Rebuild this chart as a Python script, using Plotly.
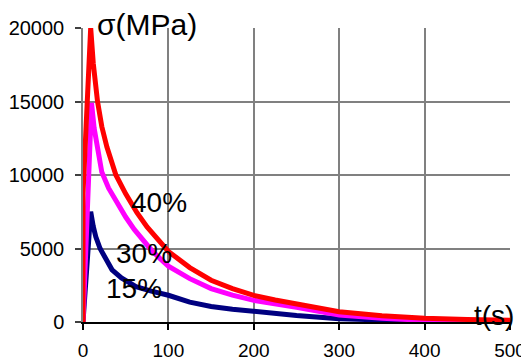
import plotly.graph_objects as go

t_40 = [0, 0, 9, 12, 17, 22, 28, 38.5, 50, 63, 75, 88, 100, 125, 150, 175, 200, 225, 250, 275, 300, 350, 400, 450, 500]
s_40 = [0, 8750, 20000, 17600, 15000, 13300, 11900, 10000, 8720, 7450, 6470, 5550, 4800, 3700, 2840, 2270, 1815, 1500, 1250, 950, 700, 420, 250, 170, 120]

t_30 = [0, 10, 13, 17, 22, 30, 40, 50, 60, 70, 80, 90, 100, 125, 150, 175, 200, 250, 300, 350, 400, 450, 500]
s_30 = [0, 14900, 13200, 11700, 10200, 9100, 8070, 7140, 6300, 5580, 4900, 4330, 3800, 2950, 2270, 1830, 1475, 1000, 480, 260, 110, 60, 40]

t_15 = [0, 9, 12, 15, 20, 27, 34, 45, 62, 80, 100, 125, 150, 175, 200, 250, 300, 350, 400, 450, 500]
s_15 = [0, 7500, 6500, 5800, 5000, 4200, 3550, 3000, 2400, 2100, 1820, 1350, 1050, 870, 720, 440, 220, 120, 60, 30, 20]

x_ticks = [0, 100, 200, 300, 400, 500]
y_ticks = [0, 5000, 10000, 15000, 20000]

labels = ["15%", "30%", "40%"]
label_pos = [(60, 2310), (71.5, 4630), (89, 8160)]
colors = ["#000080", "#FF00FF", "#FF0000"]

font = "Arial, Liberation Sans, sans-serif"

fig = go.Figure()
for tt, ss, c in [(t_15, s_15, colors[0]), (t_30, s_30, colors[1]), (t_40, s_40, colors[2])]:
    fig.add_trace(go.Scatter(x=tt, y=ss, mode="lines", line=dict(color=c, width=5),
                             showlegend=False, cliponaxis=True))

for lab, (lx, ly) in zip(labels, label_pos):
    fig.add_annotation(x=lx, y=ly, xref="x", yref="y", text=lab, showarrow=False,
                       font=dict(family=font, size=28, color="black"))

fig.add_annotation(x=0.15, y=1.012, xref="paper", yref="paper", text="σ(MPa)", showarrow=False,
                   xanchor="center", yanchor="middle",
                   font=dict(family=font, size=30, color="black"))
fig.add_annotation(x=481, y=476, xref="x", yref="y", text="t(s)", showarrow=False,
                   font=dict(family=font, size=28, color="black"))

fig.update_layout(
    width=521, height=355,
    margin=dict(l=75, r=19, t=20, b=41, autoexpand=False),
    plot_bgcolor="white", paper_bgcolor="white",
    font=dict(family=font, size=20, color="black"),
)
fig.update_xaxes(range=[0, 500], tickvals=x_ticks, ticktext=[str(v) for v in x_ticks],
                 tickfont=dict(size=19),
                 showgrid=True, gridcolor="#808080", gridwidth=1.5,
                 showline=True, linecolor="black", linewidth=2,
                 ticks="outside", ticklen=6, tickcolor="black", tickwidth=1.5,
                 ticklabelstandoff=4, automargin=False,
                 zeroline=False)
fig.update_yaxes(range=[0, 20000], tickvals=y_ticks, ticktext=[str(v) for v in y_ticks],
                 showgrid=True, gridcolor="#808080", gridwidth=1.5,
                 showline=True, linecolor="#808080", linewidth=1.5,
                 ticks="outside", ticklen=6, tickcolor="#404040", tickwidth=1.5,
                 ticklabelstandoff=7, automargin=False,
                 zeroline=False)

fig.write_html("out.html")
